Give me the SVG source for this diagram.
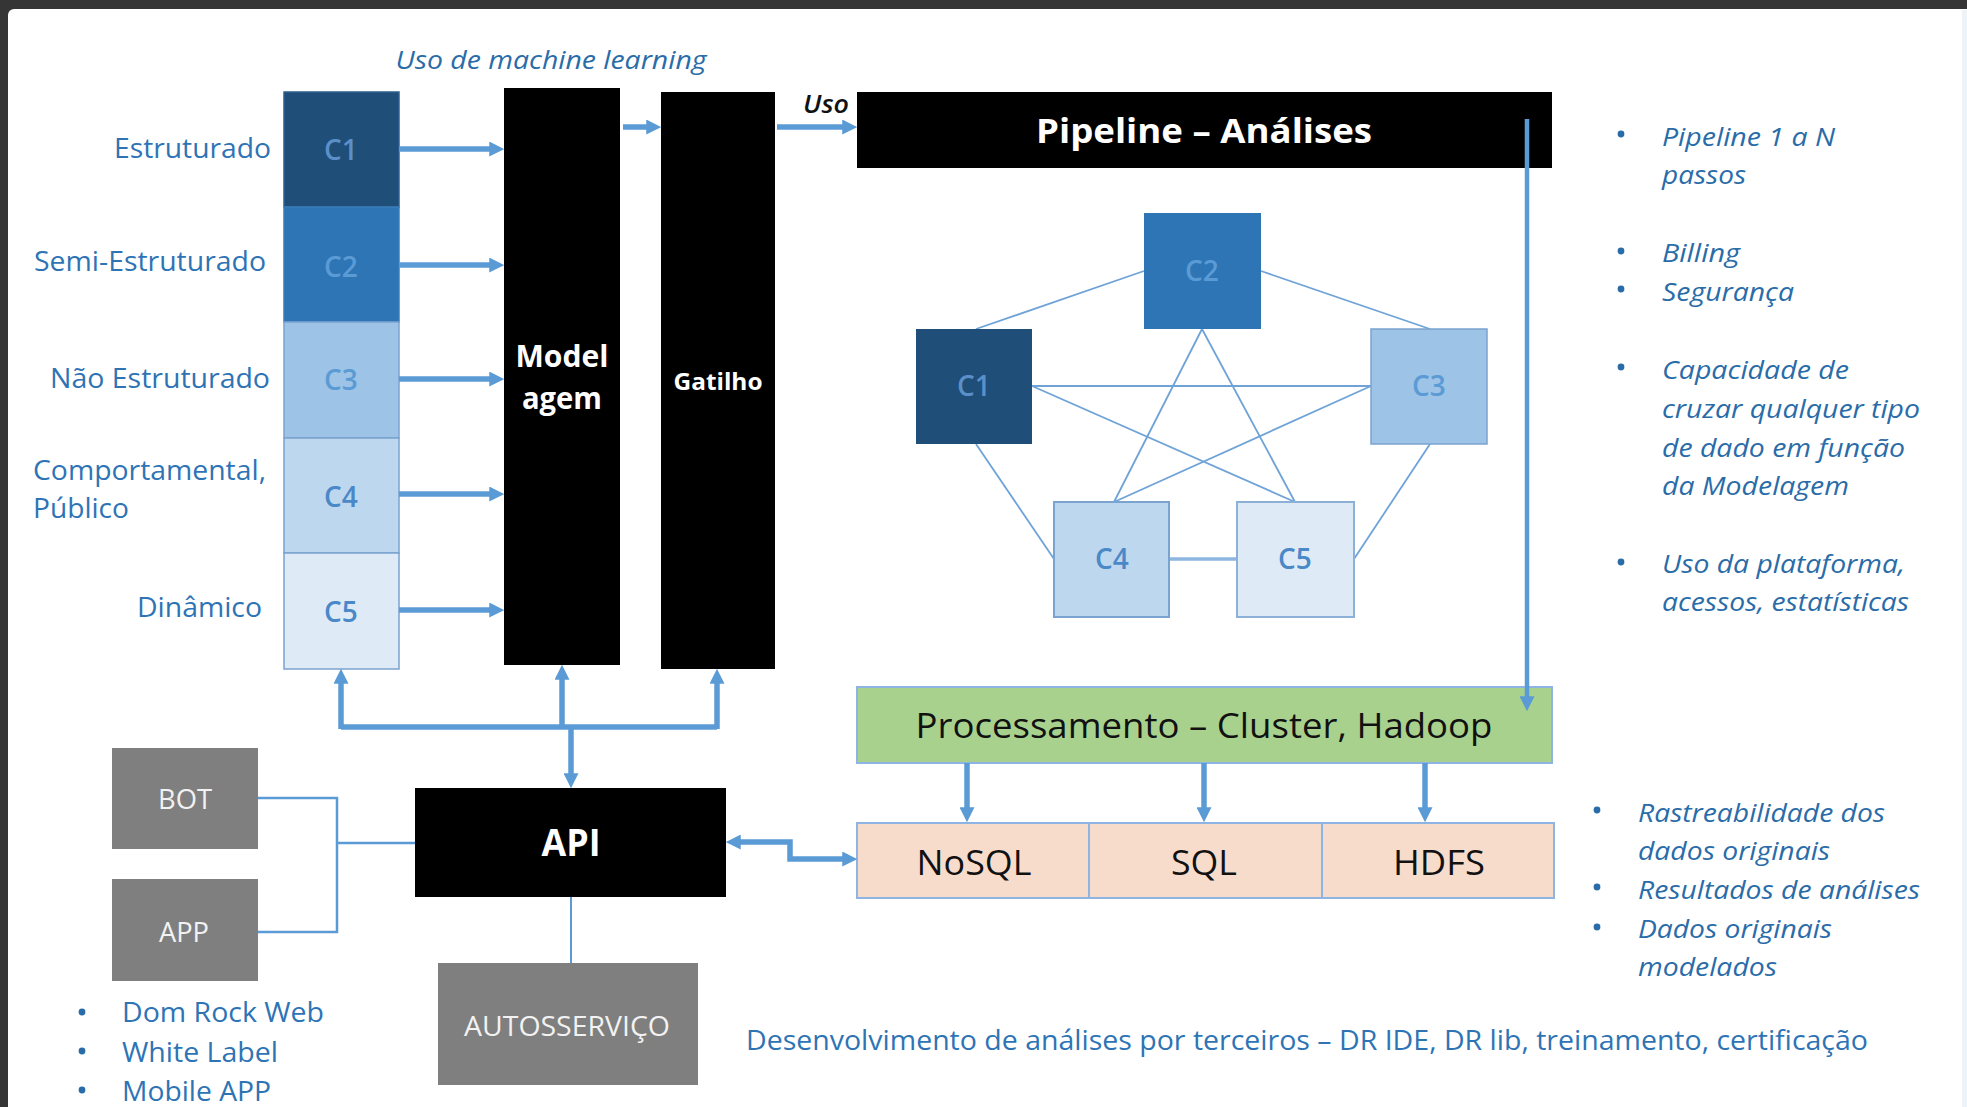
<svg xmlns="http://www.w3.org/2000/svg" width="1967" height="1107" viewBox="0 0 1967 1107">
<defs>
<style>
text{font-family:"Open Sans","Liberation Sans",sans-serif}
.lbl{font-size:27px;fill:#2E74B5}
.it{font-size:26px;fill:#2A6CA8;font-style:italic}
.blk{fill:#000}
.cw{font-size:28px;text-anchor:middle;font-weight:600}
.wb{fill:#fff;font-weight:700;text-anchor:middle}
.gray{fill:#7F7F7F}
.gt{fill:#F2F2F2;font-size:27px;text-anchor:middle}
.thick{stroke:#5B9BD5;stroke-width:5.5;fill:none}
.thin{stroke:#5B9BD5;stroke-width:2.5;fill:none}
.edge{stroke:#6FA3D8;stroke-width:1.8;fill:none}
.dot{fill:#2A6CA8}
.store{fill:#F8DCCB;stroke:#8EB4E3;stroke-width:2}
.st{font-size:34px;fill:#111;text-anchor:middle}
</style>
<marker id="ah" viewBox="0 0 12 12" markerWidth="15" markerHeight="15" refX="3" refY="6" orient="auto-start-reverse" markerUnits="userSpaceOnUse">
<path d="M0,0 L12,6 L0,12 z" fill="#5B9BD5"/>
</marker>
</defs>
<rect x="0" y="0" width="1967" height="1107" fill="#353535"/>
<rect x="8" y="9" width="1970" height="1110" rx="6" fill="#FFFFFF"/>
<rect x="1962" y="10" width="5" height="1097" fill="#EEF3F7"/>

<text x="551" y="69" class="it" text-anchor="middle" textLength="311" lengthAdjust="spacingAndGlyphs">Uso de machine learning</text>

<g id="labels">
<text x="271" y="158" class="lbl" text-anchor="end" textLength="157" lengthAdjust="spacingAndGlyphs">Estruturado</text>
<text x="266" y="271" class="lbl" text-anchor="end" textLength="232" lengthAdjust="spacingAndGlyphs">Semi-Estruturado</text>
<text x="270" y="388" class="lbl" text-anchor="end" textLength="220" lengthAdjust="spacingAndGlyphs">Não Estruturado</text>
<text x="33" y="480" class="lbl" textLength="233" lengthAdjust="spacingAndGlyphs">Comportamental,</text>
<text x="33" y="518" class="lbl" textLength="96" lengthAdjust="spacingAndGlyphs">Público</text>
<text x="262" y="617" class="lbl" text-anchor="end" textLength="125" lengthAdjust="spacingAndGlyphs">Dinâmico</text>
</g>

<g id="col-c1"><rect x="284" y="92" width="115" height="115" fill="#1F4E79" stroke="#2F5F8F" stroke-width="1.5"/><text x="341" y="160" class="cw" fill="#5B8FC8">C1</text></g>
<g id="col-c2"><rect x="284" y="207" width="115" height="115" fill="#2E75B6" stroke="#3A7CB8" stroke-width="1.5"/><text x="341" y="277" class="cw" fill="#5B9BD5">C2</text></g>
<g id="col-c3"><rect x="284" y="322" width="115" height="116" fill="#9DC3E6" stroke="#7BA3CF" stroke-width="1.5"/><text x="341" y="390" class="cw" fill="#5B9BD5">C3</text></g>
<g id="col-c4"><rect x="284" y="438" width="115" height="115" fill="#BDD7EE" stroke="#7BA3CF" stroke-width="1.5"/><text x="341" y="507" class="cw" fill="#4A88C7">C4</text></g>
<g id="col-c5"><rect x="284" y="553" width="115" height="116" fill="#DEEBF7" stroke="#7BA3CF" stroke-width="1.5"/><text x="341" y="622" class="cw" fill="#4A88C7">C5</text></g>

<g id="modelagem"><rect x="504" y="88" width="116" height="577" class="blk"/>
<text x="562" y="367" class="wb" font-size="30" textLength="93" lengthAdjust="spacingAndGlyphs">Model</text>
<text x="562" y="409" class="wb" font-size="30" textLength="80" lengthAdjust="spacingAndGlyphs">agem</text></g>

<g id="gatilho"><rect x="661" y="92" width="114" height="577" class="blk"/>
<text x="718" y="390" class="wb" font-size="24" textLength="89" lengthAdjust="spacingAndGlyphs">Gatilho</text></g>

<text x="803" y="113" font-size="25" font-style="italic" font-weight="600" fill="#111" textLength="46" lengthAdjust="spacingAndGlyphs">Uso</text>

<g id="pipeline"><rect x="857" y="92" width="695" height="76" class="blk"/>
<text x="1204" y="143" class="wb" font-size="34" font-weight="600" textLength="336" lengthAdjust="spacingAndGlyphs">Pipeline – Análises</text></g>

<g id="graph-edges">
<line x1="976" y1="329" x2="1144" y2="271" class="edge"/>
<line x1="1261" y1="271" x2="1430" y2="329" class="edge"/>
<line x1="1032" y1="386" x2="1371" y2="386" class="edge"/>
<line x1="1202" y1="329" x2="1114" y2="502" class="edge"/>
<line x1="1202" y1="329" x2="1295" y2="502" class="edge"/>
<line x1="1032" y1="386" x2="1295" y2="502" class="edge"/>
<line x1="1371" y1="386" x2="1114" y2="502" class="edge"/>
<line x1="976" y1="444" x2="1054" y2="559" class="edge"/>
<line x1="1430" y1="444" x2="1354" y2="559" class="edge"/>
<line x1="1169" y1="559" x2="1237" y2="559" stroke="#8DB6E0" stroke-width="3.5"/>
</g>

<g id="g-c2"><rect x="1144" y="213" width="117" height="116" fill="#2E75B6"/><text x="1202" y="281" class="cw" fill="#5B9BD5">C2</text></g>
<g id="g-c1"><rect x="916" y="329" width="116" height="115" fill="#1F4E79"/><text x="974" y="396" class="cw" fill="#5B8FC8">C1</text></g>
<g id="g-c3"><rect x="1371" y="329" width="116" height="115" fill="#9DC3E6" stroke="#7BA3CF" stroke-width="1.5"/><text x="1429" y="396" class="cw" fill="#5B9BD5">C3</text></g>
<g id="g-c4"><rect x="1054" y="502" width="115" height="115" fill="#BDD7EE" stroke="#7BA3CF" stroke-width="2"/><text x="1112" y="569" class="cw" fill="#4A88C7">C4</text></g>
<g id="g-c5"><rect x="1237" y="502" width="117" height="115" fill="#DEEBF7" stroke="#8DB0D8" stroke-width="2"/><text x="1295" y="569" class="cw" fill="#4A88C7">C5</text></g>

<g id="processamento"><rect x="857" y="687" width="695" height="76" fill="#A9D18E" stroke="#8EB4E3" stroke-width="2"/>
<text x="1204" y="738" class="st" textLength="577" lengthAdjust="spacingAndGlyphs">Processamento – Cluster, Hadoop</text></g>

<g id="nosql"><rect x="857" y="823" width="232" height="75" class="store"/><text x="974" y="875" class="st" textLength="115" lengthAdjust="spacingAndGlyphs">NoSQL</text></g>
<g id="sql"><rect x="1089" y="823" width="233" height="75" class="store"/><text x="1204" y="875" class="st" textLength="66" lengthAdjust="spacingAndGlyphs">SQL</text></g>
<g id="hdfs"><rect x="1322" y="823" width="232" height="75" class="store"/><text x="1439" y="875" class="st" textLength="92" lengthAdjust="spacingAndGlyphs">HDFS</text></g>

<g id="api"><rect x="415" y="788" width="311" height="109" class="blk"/>
<text x="571" y="856" class="wb" font-size="38" textLength="59" lengthAdjust="spacingAndGlyphs">API</text></g>

<g id="bot"><rect x="112" y="748" width="146" height="101" class="gray"/><text x="185" y="809" class="gt" textLength="54" lengthAdjust="spacingAndGlyphs">BOT</text></g>
<g id="app"><rect x="112" y="879" width="146" height="102" class="gray"/><text x="184" y="942" class="gt" textLength="50" lengthAdjust="spacingAndGlyphs">APP</text></g>
<g id="autosservico"><rect x="438" y="963" width="260" height="122" class="gray"/><text x="567" y="1036" class="gt" textLength="206" lengthAdjust="spacingAndGlyphs">AUTOSSERVIÇO</text></g>

<g id="connectors">
<line x1="399" y1="149" x2="493" y2="149" class="thick" marker-end="url(#ah)"/>
<line x1="399" y1="265" x2="493" y2="265" class="thick" marker-end="url(#ah)"/>
<line x1="399" y1="379" x2="493" y2="379" class="thick" marker-end="url(#ah)"/>
<line x1="399" y1="494" x2="493" y2="494" class="thick" marker-end="url(#ah)"/>
<line x1="399" y1="610" x2="493" y2="610" class="thick" marker-end="url(#ah)"/>
<line x1="623" y1="127" x2="650" y2="127" class="thick" marker-end="url(#ah)"/>
<line x1="777" y1="127" x2="846" y2="127" class="thick" marker-end="url(#ah)"/>
<path d="M341,727 H717" class="thick"/>
<line x1="341" y1="729" x2="341" y2="680" class="thick" marker-end="url(#ah)"/>
<line x1="562" y1="729" x2="562" y2="676" class="thick" marker-end="url(#ah)"/>
<line x1="717" y1="729" x2="717" y2="680" class="thick" marker-end="url(#ah)"/>
<line x1="571" y1="725" x2="571" y2="777" class="thick" marker-end="url(#ah)"/>
<line x1="1527" y1="119" x2="1527" y2="700" stroke="#5B9BD5" stroke-width="4.5" marker-end="url(#ah)"/>
<line x1="967" y1="763" x2="967" y2="811" class="thick" marker-end="url(#ah)"/>
<line x1="1204" y1="763" x2="1204" y2="811" class="thick" marker-end="url(#ah)"/>
<line x1="1425" y1="763" x2="1425" y2="811" class="thick" marker-end="url(#ah)"/>
<path d="M737,842 H790 V859 H846" class="thick" marker-start="url(#ah)" marker-end="url(#ah)"/>
<path d="M258,798 H337 V932 H258" class="thin"/>
<path d="M337,843 H415" class="thin"/>
<path d="M571,897 V963" stroke="#5B9BD5" stroke-width="2" fill="none"/>
</g>

<g id="notes-left">
<circle cx="82" cy="1012" r="3.4" class="dot"/><text x="122" y="1022" class="lbl" textLength="202" lengthAdjust="spacingAndGlyphs">Dom Rock Web</text>
<circle cx="82" cy="1051" r="3.4" class="dot"/><text x="122" y="1062" class="lbl" textLength="156" lengthAdjust="spacingAndGlyphs">White Label</text>
<circle cx="82" cy="1090" r="3.4" class="dot"/><text x="122" y="1101" class="lbl" textLength="149" lengthAdjust="spacingAndGlyphs">Mobile APP</text>
</g>

<text x="746" y="1050" class="lbl" textLength="1122" lengthAdjust="spacingAndGlyphs">Desenvolvimento de análises por terceiros – DR IDE, DR lib, treinamento, certificação</text>

<g id="notes-right">
<circle cx="1621" cy="134" r="3.4" class="dot"/>
<text x="1662" y="146" class="it" textLength="173" lengthAdjust="spacingAndGlyphs">Pipeline 1 a N</text>
<text x="1662" y="184" class="it" textLength="84" lengthAdjust="spacingAndGlyphs">passos</text>
<circle cx="1621" cy="251" r="3.4" class="dot"/>
<text x="1662" y="262" class="it" textLength="78" lengthAdjust="spacingAndGlyphs">Billing</text>
<circle cx="1621" cy="289" r="3.4" class="dot"/>
<text x="1662" y="301" class="it" textLength="132" lengthAdjust="spacingAndGlyphs">Segurança</text>
<circle cx="1621" cy="367" r="3.4" class="dot"/>
<text x="1662" y="379" class="it" textLength="187" lengthAdjust="spacingAndGlyphs">Capacidade de</text>
<text x="1662" y="418" class="it" textLength="258" lengthAdjust="spacingAndGlyphs">cruzar qualquer tipo</text>
<text x="1662" y="457" class="it" textLength="243" lengthAdjust="spacingAndGlyphs">de dado em função</text>
<text x="1662" y="495" class="it" textLength="187" lengthAdjust="spacingAndGlyphs">da Modelagem</text>
<circle cx="1621" cy="562" r="3.4" class="dot"/>
<text x="1662" y="573" class="it" textLength="243" lengthAdjust="spacingAndGlyphs">Uso da plataforma,</text>
<text x="1662" y="611" class="it" textLength="247" lengthAdjust="spacingAndGlyphs">acessos, estatísticas</text>
<circle cx="1597" cy="810" r="3.4" class="dot"/>
<text x="1638" y="822" class="it" textLength="247" lengthAdjust="spacingAndGlyphs">Rastreabilidade dos</text>
<text x="1638" y="860" class="it" textLength="192" lengthAdjust="spacingAndGlyphs">dados originais</text>
<circle cx="1597" cy="887" r="3.4" class="dot"/>
<text x="1638" y="899" class="it" textLength="282" lengthAdjust="spacingAndGlyphs">Resultados de análises</text>
<circle cx="1597" cy="927" r="3.4" class="dot"/>
<text x="1638" y="938" class="it" textLength="194" lengthAdjust="spacingAndGlyphs">Dados originais</text>
<text x="1638" y="976" class="it" textLength="139" lengthAdjust="spacingAndGlyphs">modelados</text>
</g>
</svg>
